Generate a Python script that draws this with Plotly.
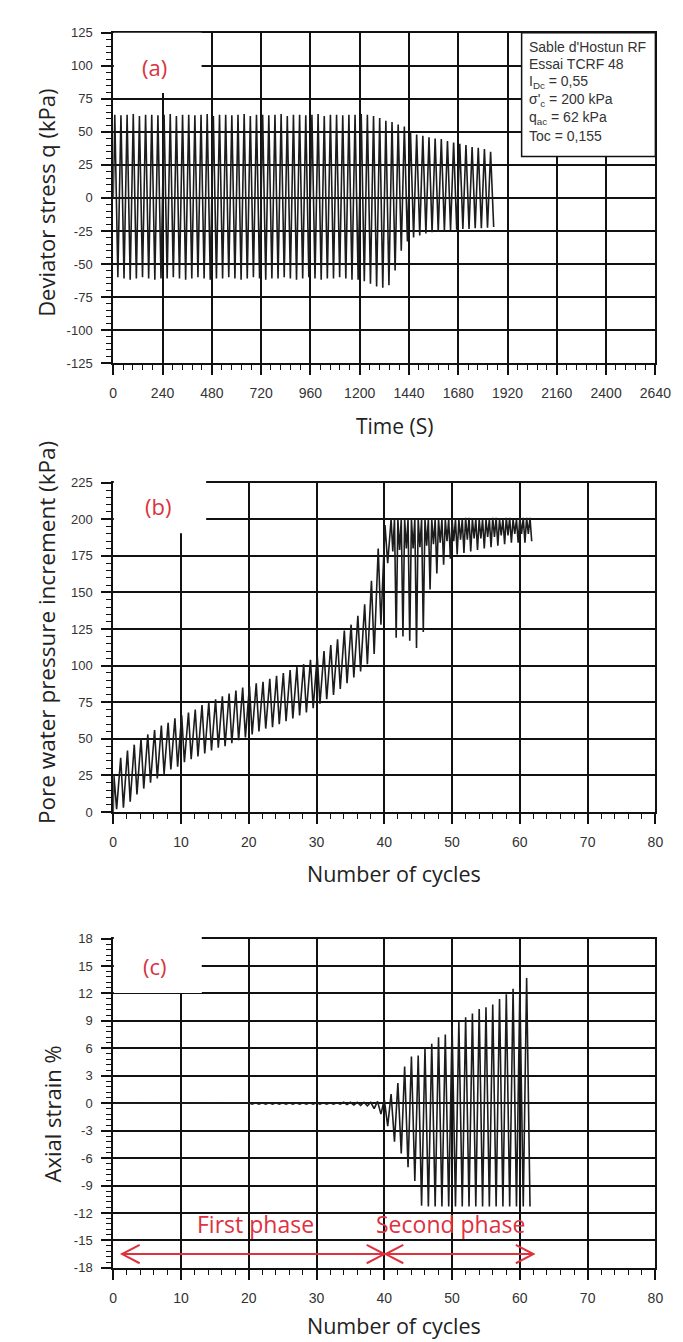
import plotly.graph_objects as go

# ---------------- data ----------------
PERIOD_S = 30.0  # seconds per loading cycle

cycles = list(range(62))

# (a) deviator stress q (kPa): peak and trough of every cycle
q_max = [63, 62.5, 63, 63.5, 62, 63, 63, 62.5, 63, 63.5,
         62, 63, 63, 62.5, 63, 63.5, 62, 63, 63, 62.5,
         63, 63.5, 62, 63, 63, 62.5, 63, 63.5, 62, 63,
         63, 62.5, 63, 63.5, 62, 63, 63, 62.5, 63, 63,
         63.5, 63, 62, 60.5, 58.5, 57.5, 55.5, 54, 49.5, 48,
         47, 46, 45, 44.5, 43, 42, 41, 40, 38.5, 38,
         37, 35]
q_min = [-60, -61, -62, -61, -60, -61, -62, -61, -61, -60,
         -61, -62, -61, -60, -61, -62, -61, -61, -60, -61,
         -62, -61, -60, -61, -62, -61, -61, -60, -61, -62,
         -61, -60, -61, -62, -61, -61, -60, -61, -62, -62,
         -63, -65, -67, -68, -66, -55, -40, -33, -30, -28.5,
         -27, -26, -25.5, -25, -24.5, -24, -23.5, -23.5, -23, -23,
         -22.5, -22]

# (b) pore water pressure increment (kPa)
u_peak = [25, 37, 42, 46, 50, 53, 56, 59, 61, 64,
          66, 68, 70, 73, 75, 77, 79, 81, 83, 85,
          86, 88, 89, 91, 93, 95, 97, 99, 101, 104,
          107, 110, 114, 118, 124, 128, 134, 142, 158, 180,
          196, 200, 200, 200, 200, 200, 200, 200, 200, 200,
          200, 200, 201, 200, 200, 200, 201, 200, 201, 200,
          201, 201]
u_trough = [2, 3, 7, 12, 16, 20, 23, 26, 29, 31,
            34, 36, 38, 40, 42, 44, 45, 47, 49, 51,
            53, 55, 57, 58, 60, 62, 64, 66, 68, 71,
            74, 77, 80, 84, 88, 92, 96, 101, 108, 128,
            170, 119, 120, 117, 112, 123, 152, 163, 169, 173,
            176, 177, 178, 179, 180, 181, 182, 183, 184, 184,
            184, 185]
# shallow intermediate dip of the liquefied cycles (None before liquefaction)
u_dip = [None] * 41 + [178, 179, 180, 180, 181, 182, 183, 184, 185, 185,
                       186, 186, 187, 187, 188, 188, 189, 189, 190, 190,
                       190]

# (c) axial strain (%)
eps_max = [0.0, 0.0, 0.0, 0.0, 0.0, 0.0, 0.0, 0.0, 0.0, 0.0,
           0.0, 0.0, 0.0, 0.0, 0.0, 0.0, 0.0, 0.0, 0.0, 0.0,
           0.05, 0.05, 0.05, 0.05, 0.05, 0.05, 0.05, 0.05, 0.05, 0.05,
           0.05, 0.05, 0.05, 0.05, 0.1, 0.1, 0.1, 0.1, 0.1, 0.2,
           0.4, 1.0, 2.2, 4.0, 5.1, 5.2, 6.0, 6.5, 7.2, 7.5,
           8.5, 8.9, 9.4, 9.8, 10.3, 10.5, 10.8, 11.4, 11.9, 12.5,
           12.6, 13.7]
eps_min = [0.0, 0.0, 0.0, 0.0, 0.0, 0.0, 0.0, 0.0, 0.0, 0.0,
           0.0, 0.0, 0.0, 0.0, 0.0, 0.0, 0.0, 0.0, 0.0, 0.0,
           -0.1, -0.1, -0.1, -0.1, -0.1, -0.1, -0.1, -0.1, -0.1, -0.1,
           -0.1, -0.1, -0.1, -0.1, -0.15, -0.2, -0.25, -0.3, -0.6, -1.2,
           -2.5, -4.2, -5.5, -7.0, -8.5, -11.2, -11.3, -11.3, -11.3, -11.3,
           -11.3, -11.3, -11.3, -11.3, -11.3, -11.3, -11.3, -11.3, -11.3, -11.3,
           -11.3, -11.3]

# phases (number of cycles)
phase_start = [1.3, 40.2]
phase_end = [40.0, 62.0]
phase_names = ["First phase", "Second phase"]
phase_label_x = [21.0, 49.7]

# tick labels
a_xticks = [0, 240, 480, 720, 960, 1200, 1440, 1680, 1920, 2160, 2400, 2640]
a_yticks = [-125, -100, -75, -50, -25, 0, 25, 50, 75, 100, 125]
n_xticks = [0, 10, 20, 30, 40, 50, 60, 70, 80]
b_yticks = [0, 25, 50, 75, 100, 125, 150, 175, 200, 225]
c_yticks = [-18, -15, -12, -9, -6, -3, 0, 3, 6, 9, 12, 15, 18]

info_lines = ["Sable d'Hostun RF", "Essai TCRF 48", "I<sub>Dc</sub> = 0,55",
              "σ'<sub>c</sub> = 200 kPa", "q<sub>ac</sub> = 62 kPa", "Toc = 0,155"]

# ---------------- build zig-zag series ----------------
ta, qa = [0.0], [0.0]
for n in cycles:
    ta += [(n + 0.25) * PERIOD_S, (n + 0.75) * PERIOD_S]
    qa += [q_max[n], q_min[n]]

nb, ub = [0.0], [0.0]
for n in cycles:
    if u_dip[n] is None:
        nb += [n + 0.1, n + 0.5]
        ub += [u_peak[n], u_trough[n]]
    else:
        nb += [n, n + 0.25, n + 0.5, n + 0.75]
        ub += [u_peak[n], u_dip[n], u_peak[n], u_trough[n]]

nc, ec = [], []
for n in cycles:
    nc += [n, n + 0.5]
    ec += [eps_max[n], eps_min[n]]

# ---------------- layout geometry ----------------
W, H = 683, 1342
def px(v):
    return v / W
def py(v):
    return 1 - v / H

L, R = 104.3, 662.8
A_T, A_B = 18, 352
B_T, B_B = 473, 806
C_T, C_B = 934, 1267

LINE = "#111111"
RED = "#e0313f"
TICKFONT_Y = dict(family="Liberation Sans, Arial, sans-serif", size=13, color="#333333")
TICKFONT_X = dict(family="Liberation Sans, Arial, sans-serif", size=14, color="#333333")
TITLEFONT = "Open Sans, Lato, sans-serif"

def axis(ticks, rng, dom, anchor, minor_dtick, font):
    return dict(range=rng, domain=dom, anchor=anchor,
                tickmode="array", tickvals=ticks, ticktext=[str(t) for t in ticks],
                showline=True, linewidth=2, linecolor=LINE, mirror=True,
                showgrid=True, gridcolor=LINE, gridwidth=2, zeroline=False,
                ticks="outside", ticklen=10, tickwidth=1.5, tickcolor=LINE,
                tickfont=font, ticklabelstandoff=6, layer="above traces",
                minor=dict(dtick=minor_dtick, tick0=0, ticks="outside", ticklen=5,
                           tickwidth=1.2, tickcolor=LINE, showgrid=False))

fig = go.Figure()
trace_style = dict(mode="lines", line=dict(color="#1c1c1c", width=1.6),
                   showlegend=False, hoverinfo="skip")
fig.add_trace(go.Scatter(x=ta, y=qa, xaxis="x", yaxis="y", **trace_style))
fig.add_trace(go.Scatter(x=nb, y=ub, xaxis="x2", yaxis="y2", **trace_style))
fig.add_trace(go.Scatter(x=nc, y=ec, xaxis="x3", yaxis="y3", **trace_style))

xdom = [px(L), px(R)]
fig.update_layout(
    width=W, height=H, margin=dict(l=0, r=0, t=0, b=0),
    paper_bgcolor="white", plot_bgcolor="white", showlegend=False,
    xaxis=axis(a_xticks, [0, 2640], xdom, "y", 48, TICKFONT_X),
    yaxis=axis(a_yticks, [-125, 125], [py(A_B), py(A_T)], "x", 5, TICKFONT_Y),
    xaxis2=axis(n_xticks, [0, 80], xdom, "y2", 2, TICKFONT_X),
    yaxis2=axis(b_yticks, [0, 225], [py(B_B), py(B_T)], "x2", 5, TICKFONT_Y),
    xaxis3=axis(n_xticks, [0, 80], xdom, "y3", 2, TICKFONT_X),
    yaxis3=axis(c_yticks, [-18, 18], [py(C_B), py(C_T)], "x3", 0.6, TICKFONT_Y),
)

shapes = []
# white masks behind the panel letters
for x1, y_top, y_bot in [(195.3, A_T, 79), (200, B_T - 3, 524), (195.5, C_T - 3, 989)]:
    shapes.append(dict(type="rect", xref="paper", yref="paper", layer="above",
                       x0=px(L + 0.6), x1=px(x1), y0=py(y_bot), y1=py(y_top),
                       fillcolor="white", line=dict(width=0)))
# information box in panel (a)
shapes.append(dict(type="rect", xref="paper", yref="paper", layer="above",
                   x0=px(525), x1=px(R), y0=py(143), y1=py(A_T),
                   fillcolor="white", line=dict(color=LINE, width=1.5)))
# phase arrows in panel (c)
ARROW_Y = -16.5
HEAD_DX, HEAD_DY = 2.6, 1.0
for s, e in zip(phase_start, phase_end):
    shapes.append(dict(type="line", xref="x3", yref="y3", layer="above",
                       x0=s, x1=e, y0=ARROW_Y, y1=ARROW_Y, line=dict(color=RED, width=2)))
    for tip, d in [(s, HEAD_DX), (e, -HEAD_DX)]:
        shapes.append(dict(type="path", xref="x3", yref="y3", layer="above",
                           path=f"M {tip + d},{ARROW_Y + HEAD_DY} L {tip},{ARROW_Y} L {tip + d},{ARROW_Y - HEAD_DY}",
                           line=dict(color=RED, width=2)))
fig.update_layout(shapes=shapes)

ann = []
def title(text, x, y, angle=0, size=22):
    ann.append(dict(text=text, xref="paper", yref="paper", x=px(x), y=py(y),
                    xanchor="center", yanchor="middle", showarrow=False, textangle=angle,
                    font=dict(family=TITLEFONT, size=size, color="#222222")))

title("Deviator stress q (kPa)", 35, 190, -90, 22)
title("Pore water pressure increment (kPa)", 35, 624, -90, 22.5)
title("Axial strain %", 41, 1111, -90, 22)
title("Time (S)", 394, 416, 0, 21)
title("Number of cycles", 394, 868, 0, 21.5)
title("Number of cycles", 394, 1325, 0, 21.5)

for lab, x, y in [("(a)", 147, 53), ("(b)", 150, 497), ("(c)", 147, 962)]:
    ann.append(dict(text=lab, xref="paper", yref="paper", x=px(x), y=py(y),
                    xanchor="center", yanchor="middle", showarrow=False,
                    font=dict(family=TITLEFONT, size=22, color="#d8343f")))

for i, line in enumerate(info_lines):
    ann.append(dict(text=line, xref="paper", yref="paper", x=px(531), y=py(32 + 18 * i),
                    xanchor="left", yanchor="middle", showarrow=False,
                    font=dict(family="Liberation Sans, Arial, sans-serif", size=14, color="#333333")))

for name, lx in zip(phase_names, phase_label_x):
    ann.append(dict(text=name, xref="x3", yref="y3", x=lx, y=-13.2,
                    xanchor="center", yanchor="middle", showarrow=False,
                    font=dict(family=TITLEFONT, size=23, color=RED)))

fig.update_layout(annotations=ann)
fig.write_html("out.html")
